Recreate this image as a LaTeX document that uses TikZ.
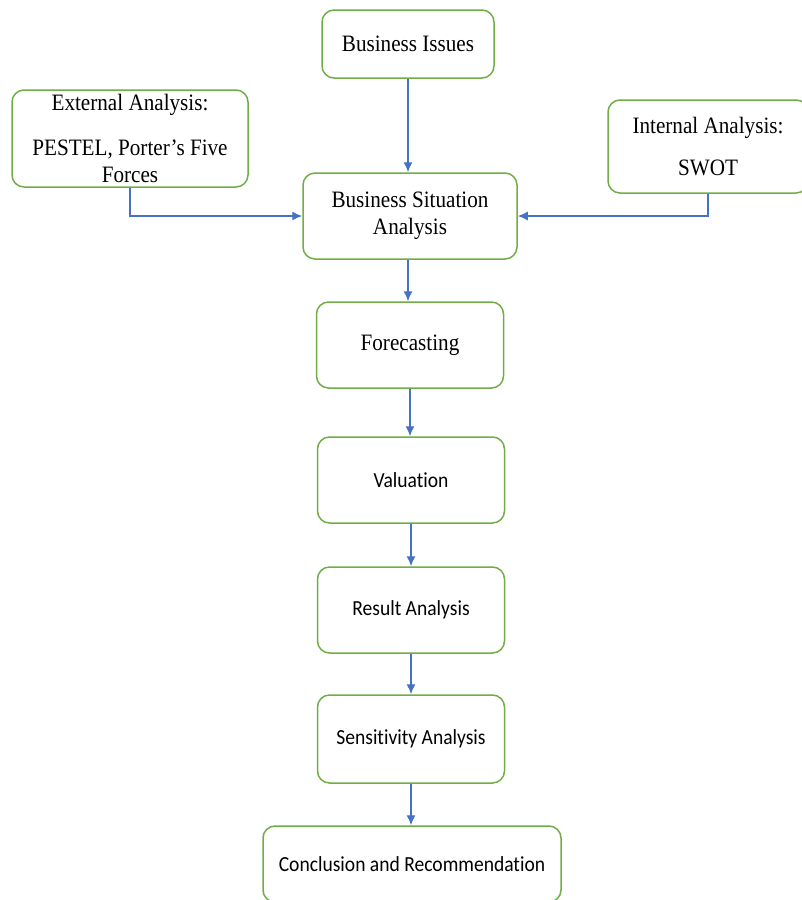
\documentclass[tikz,border=0pt]{standalone}
\usepackage{fontspec}
\setmainfont{Liberation Serif}[FakeStretch=0.9]
\newfontfamily\calibri{Carlito}[FakeStretch=0.91,Ligatures=NoCommon]
\usetikzlibrary{arrows.meta}
\definecolor{boxgreen}{RGB}{112,173,71}
\definecolor{linkblue}{RGB}{68,114,196}

\begin{document}
\begin{tikzpicture}[x=1pt,y=-1pt,
    box/.style={draw=boxgreen,line width=1.5pt,rounded corners=12pt,align=center,inner sep=0pt},
    link/.style={draw=linkblue,line width=1.4pt,-{Latex[length=10pt,width=9pt]}},
    serif/.style={font=\fontsize{23.5}{27}\selectfont},
    sans/.style={font=\calibri\fontsize{21.5}{24}\selectfont}]
   \useasboundingbox (0,0) rectangle (802,900);
   \clip (0,0) rectangle (802,900);
   % upper boxes
   \node [box,serif,minimum width=172pt,minimum height=68pt] (issues) at (408,44) {Business Issues};
   \node [box,serif,minimum width=236pt,minimum height=97pt] (external) at (130,138.5)
      {External Analysis:\\[18pt]PESTEL, Porter’s Five\\Forces};
   \node [box,serif,minimum width=200pt,minimum height=93pt] (internal) at (708,146.5)
      {Internal Analysis:\\[15pt]SWOT};
   \node [box,serif,minimum width=214pt,minimum height=86pt] (situation) at (410,216)
      {Business Situation\\Analysis};
   \node [box,serif,minimum width=187pt,minimum height=86pt] (forecast) at (410,345) {Forecasting};
   % lower boxes
   \node [box,sans,minimum width=187pt,minimum height=86pt] (valuation) at (411,480) {Valuation};
   \node [box,sans,minimum width=187pt,minimum height=86pt] (result) at (411,610) {Result Analysis};
   \node [box,sans,minimum width=187pt,minimum height=88pt] (sensitivity) at (411,739) {Sensitivity Analysis};
   \node [box,sans,minimum width=298pt,minimum height=76pt] (conclusion) at (412,864) {Conclusion and Recommendation};
   % connectors
   \draw [link] (issues.south) -- (issues.south |- situation.north);
   \draw [link] (external.south) |- (situation.west);
   \draw [link] (internal.south) |- (situation.east);
   \draw [link] (issues.south |- situation.south) -- (issues.south |- forecast.north);
   \draw [link] (forecast.south) -- (forecast.south |- valuation.north);
   \draw [link] (valuation.south) -- (valuation.south |- result.north);
   \draw [link] (result.south) -- (result.south |- sensitivity.north);
   \draw [link] (sensitivity.south) -- (sensitivity.south |- conclusion.north);
\end{tikzpicture}
\end{document}
